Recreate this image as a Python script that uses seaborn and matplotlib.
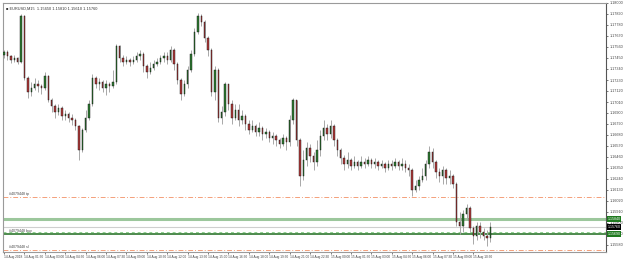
import matplotlib
matplotlib.use("Agg")
import matplotlib.pyplot as plt
import matplotlib.transforms as mtransforms
import seaborn as sns
import numpy as np

# %%
symbol_title = "\u25a0 EURUSD,M15  1.15650 1.15810 1.15610 1.15760"

bar_open = [
    1.1748, 1.1751, 1.1747, 1.1743, 1.1745, 1.1741, 1.1787, 1.1725, 1.1711, 1.1715,
    1.1719, 1.1717, 1.1715, 1.1727, 1.1703, 1.1697, 1.1691, 1.1695, 1.1687, 1.1689,
    1.1685, 1.1683, 1.1677, 1.1653, 1.1673, 1.1685, 1.1699, 1.1725, 1.1719, 1.1721,
    1.1715, 1.1719, 1.1717, 1.1721, 1.1757, 1.1745, 1.1741, 1.1743, 1.1741, 1.1743,
    1.1747, 1.1749, 1.1737, 1.1731, 1.1735, 1.1739, 1.1741, 1.1745, 1.1747, 1.1743,
    1.1753, 1.1739, 1.1723, 1.1709, 1.1719, 1.1733, 1.1749, 1.1771, 1.1787, 1.1781,
    1.1765, 1.1753, 1.1711, 1.1733, 1.1685, 1.1691, 1.1719, 1.1699, 1.1685, 1.1693,
    1.1683, 1.1687, 1.1679, 1.1673, 1.1677, 1.1671, 1.1675, 1.1669, 1.1671, 1.1665,
    1.1667, 1.1663, 1.1659, 1.1665, 1.1661, 1.1683, 1.1703, 1.1663, 1.1627, 1.1643,
    1.1655, 1.1647, 1.1641, 1.1653, 1.1667, 1.1675, 1.1669, 1.1677, 1.1663, 1.1653,
    1.1645, 1.1639, 1.1643, 1.1637, 1.1641, 1.1637, 1.1641, 1.1639, 1.1643, 1.1639,
    1.1641, 1.1637, 1.1639, 1.1635, 1.1639, 1.1637, 1.1641, 1.1637, 1.1639, 1.1635,
    1.1633, 1.1613, 1.1617, 1.1623, 1.1627, 1.1639, 1.1651, 1.1641, 1.1631, 1.1627,
    1.1633, 1.1625, 1.1627, 1.1619, 1.1581, 1.1577, 1.1589, 1.1595, 1.1575, 1.1567,
    1.1577, 1.1571, 1.1567, 1.1565,
]
bar_high = [
    1.1753, 1.1753, 1.1748, 1.1748, 1.1746, 1.1789, 1.1788, 1.1727, 1.1721, 1.1725,
    1.1723, 1.1719, 1.1731, 1.1728, 1.1705, 1.1699, 1.1699, 1.1697, 1.1693, 1.1691,
    1.1689, 1.1685, 1.1678, 1.1675, 1.1693, 1.1703, 1.1729, 1.1727, 1.1725, 1.1723,
    1.1723, 1.1721, 1.1733, 1.1759, 1.1758, 1.1748, 1.1747, 1.1745, 1.1747, 1.1751,
    1.1753, 1.1751, 1.1739, 1.1741, 1.1743, 1.1745, 1.1748, 1.1751, 1.1751, 1.1757,
    1.1755, 1.1741, 1.1725, 1.1723, 1.1737, 1.1753, 1.1775, 1.1790, 1.1789, 1.1783,
    1.1767, 1.1755, 1.1737, 1.1735, 1.1697, 1.1721, 1.1719, 1.1703, 1.1699, 1.1699,
    1.1693, 1.1689, 1.1683, 1.1683, 1.1679, 1.1681, 1.1677, 1.1675, 1.1673, 1.1671,
    1.1669, 1.1665, 1.1669, 1.1667, 1.1688, 1.1705, 1.1703, 1.1665, 1.1653, 1.1661,
    1.1659, 1.1651, 1.1663, 1.1673, 1.1683, 1.1679, 1.1683, 1.1679, 1.1665, 1.1655,
    1.1648, 1.1651, 1.1645, 1.1647, 1.1643, 1.1647, 1.1645, 1.1647, 1.1645, 1.1645,
    1.1643, 1.1643, 1.1641, 1.1643, 1.1643, 1.1645, 1.1643, 1.1645, 1.1643, 1.1639,
    1.1635, 1.1623, 1.1627, 1.1635, 1.1643, 1.1657, 1.1655, 1.1643, 1.1635, 1.1637,
    1.1635, 1.1633, 1.1629, 1.1621, 1.1591, 1.1593, 1.1599, 1.1597, 1.1577, 1.1581,
    1.1581, 1.1575, 1.1573, 1.1581,
]
bar_low = [
    1.1745, 1.1743, 1.1740, 1.1741, 1.1739, 1.1740, 1.1723, 1.1705, 1.1707, 1.1713,
    1.1711, 1.1709, 1.1713, 1.1701, 1.1691, 1.1685, 1.1688, 1.1683, 1.1683, 1.1681,
    1.1678, 1.1673, 1.1643, 1.1651, 1.1671, 1.1683, 1.1697, 1.1715, 1.1713, 1.1711,
    1.1708, 1.1711, 1.1715, 1.1719, 1.1741, 1.1737, 1.1739, 1.1737, 1.1739, 1.1741,
    1.1743, 1.1731, 1.1725, 1.1729, 1.1733, 1.1737, 1.1739, 1.1741, 1.1739, 1.1741,
    1.1733, 1.1719, 1.1703, 1.1707, 1.1715, 1.1731, 1.1747, 1.1769, 1.1777, 1.1761,
    1.1747, 1.1707, 1.1703, 1.1681, 1.1679, 1.1687, 1.1693, 1.1679, 1.1683, 1.1677,
    1.1679, 1.1673, 1.1669, 1.1671, 1.1667, 1.1667, 1.1663, 1.1665, 1.1661, 1.1659,
    1.1657, 1.1655, 1.1657, 1.1653, 1.1657, 1.1679, 1.1657, 1.1617, 1.1623, 1.1637,
    1.1641, 1.1633, 1.1637, 1.1647, 1.1663, 1.1663, 1.1665, 1.1657, 1.1647, 1.1639,
    1.1633, 1.1635, 1.1633, 1.1635, 1.1633, 1.1635, 1.1635, 1.1637, 1.1635, 1.1635,
    1.1633, 1.1635, 1.1631, 1.1633, 1.1633, 1.1635, 1.1633, 1.1633, 1.1631, 1.1627,
    1.1607, 1.1611, 1.1613, 1.1621, 1.1623, 1.1635, 1.1635, 1.1625, 1.1621, 1.1619,
    1.1619, 1.1619, 1.1615, 1.1577, 1.1569, 1.1571, 1.1583, 1.1571, 1.1559, 1.1563,
    1.1565, 1.1563, 1.1557, 1.1561,
]
bar_close = [
    1.1751, 1.1747, 1.1743, 1.1745, 1.1741, 1.1787, 1.1725, 1.1711, 1.1715, 1.1719,
    1.1717, 1.1715, 1.1727, 1.1703, 1.1697, 1.1691, 1.1695, 1.1687, 1.1689, 1.1685,
    1.1683, 1.1677, 1.1653, 1.1673, 1.1685, 1.1699, 1.1725, 1.1719, 1.1721, 1.1715,
    1.1719, 1.1717, 1.1721, 1.1757, 1.1745, 1.1741, 1.1743, 1.1741, 1.1743, 1.1747,
    1.1749, 1.1737, 1.1731, 1.1735, 1.1739, 1.1741, 1.1745, 1.1747, 1.1743, 1.1753,
    1.1739, 1.1723, 1.1709, 1.1719, 1.1733, 1.1749, 1.1771, 1.1787, 1.1781, 1.1765,
    1.1753, 1.1711, 1.1733, 1.1685, 1.1691, 1.1719, 1.1699, 1.1685, 1.1693, 1.1683,
    1.1687, 1.1679, 1.1673, 1.1677, 1.1671, 1.1675, 1.1669, 1.1671, 1.1665, 1.1667,
    1.1663, 1.1659, 1.1665, 1.1661, 1.1683, 1.1703, 1.1663, 1.1627, 1.1643, 1.1655,
    1.1647, 1.1641, 1.1653, 1.1667, 1.1675, 1.1669, 1.1677, 1.1663, 1.1653, 1.1645,
    1.1639, 1.1643, 1.1637, 1.1641, 1.1637, 1.1641, 1.1639, 1.1643, 1.1639, 1.1641,
    1.1637, 1.1639, 1.1635, 1.1639, 1.1637, 1.1641, 1.1637, 1.1639, 1.1635, 1.1633,
    1.1613, 1.1617, 1.1623, 1.1627, 1.1639, 1.1651, 1.1641, 1.1631, 1.1627, 1.1633,
    1.1625, 1.1627, 1.1619, 1.1581, 1.1577, 1.1589, 1.1595, 1.1575, 1.1567, 1.1577,
    1.1571, 1.1567, 1.1565, 1.1576,
]

time_labels = [
    "14 Aug 2018", "14 Aug 01:30", "14 Aug 03:00", "14 Aug 04:30", "14 Aug 06:00",
    "14 Aug 07:30", "14 Aug 09:00", "14 Aug 10:30", "14 Aug 12:00", "14 Aug 13:30",
    "14 Aug 15:00", "14 Aug 16:30", "14 Aug 18:00", "14 Aug 19:30", "14 Aug 21:00",
    "14 Aug 22:30", "15 Aug 00:00", "15 Aug 01:30", "15 Aug 03:00", "15 Aug 04:30",
    "15 Aug 06:00", "15 Aug 07:30", "15 Aug 09:00", "15 Aug 10:30",
]
label_every = 6

price_ticks = [
    1.1800, 1.1789, 1.1778, 1.1767, 1.1756, 1.1745, 1.1734, 1.1723, 1.1712, 1.1701,
    1.1690, 1.1679, 1.1668, 1.1657, 1.1646, 1.1635, 1.1624, 1.1613, 1.1602, 1.1591,
    1.1580, 1.1569, 1.1558,
]

order_ticket = "#4079448"
level_tp = 1.1606
level_alert = 1.1584
level_bid = 1.1576
level_entry = 1.1571
level_buy = 1.1569
level_sl = 1.1553

# %%
sns.set_theme(style="white")
plt.rcParams["font.family"] = ["Liberation Sans", "DejaVu Sans"]

fig = plt.figure(figsize=(6.25, 2.62), dpi=100)
ax = fig.add_axes([3 / 625, 10 / 262, 603 / 625, 249 / 262])
ax.set_facecolor("white")

o = np.array(bar_open)
h = np.array(bar_high)
l = np.array(bar_low)
c = np.array(bar_close)
idx = np.arange(len(c))
up = c >= o

ax.vlines(idx, l, h, color="#a8a8a8", linewidth=0.7, zorder=2)
body = np.where(np.abs(c - o) < 0.00002, 0.00002, c - o)
ax.bar(idx, body, bottom=o, width=0.42,
       color=np.where(up, "#2f7d32", "#b23a3a"),
       edgecolor="#111111", linewidth=0.3, zorder=3)

# order / price levels
ax.axhline(level_tp, color="#f4a07a", linewidth=0.7, dashes=(5, 2, 1, 2), zorder=1)
ax.axhline(level_sl, color="#f4a07a", linewidth=0.7, dashes=(5, 2, 1, 2), zorder=1)
ax.axhline(level_alert, color="#9cc79c", linewidth=2.2, zorder=1)
ax.axhline(level_bid, color="#cfcfcf", linewidth=0.8, zorder=1)
ax.axhline(level_entry, color="#8fd08f", linewidth=0.7, dashes=(3, 3), zorder=1)
ax.axhline(level_buy, color="#1d6b1d", linewidth=1.1, zorder=1)

lbl = dict(fontsize=2.6, color="#444444", ha="left", va="bottom")
ax.text(1.5, level_tp + 0.00006, order_ticket + " tp", **lbl)
ax.text(1.5, level_buy + 0.00006, order_ticket + " buy", **lbl)
ax.text(1.5, level_sl + 0.00006, order_ticket + " sl", **lbl)

ax.text(0.005, 0.985, symbol_title, transform=ax.transAxes, fontsize=2.8,
        color="#333333", ha="left", va="top")

ax.set_xlim(-0.3, 177)
ax.set_ylim(1.1551, 1.1800)

ax.yaxis.tick_right()
ax.set_yticks(price_ticks)
ax.set_yticklabels([f"{p:.5f}" for p in price_ticks])
ax.tick_params(axis="y", right=True, length=1.5, width=0.5, pad=1,
               labelsize=2.7, labelcolor="#444444", color="#444444")

ax.set_xticks(idx[::label_every][: len(time_labels)])
ax.set_xticklabels(time_labels, ha="left")
ax.tick_params(axis="x", bottom=True, length=1.5, width=0.5, pad=1,
               labelsize=2.3, labelcolor="#444444", color="#444444")

trans = mtransforms.blended_transform_factory(ax.transAxes, ax.transData)
for lev, bg in [(level_alert, "#1f7a1f"), (level_bid, "black"), (level_buy, "#1f7a1f")]:
    ax.text(1.003, lev, f"{lev:.5f}", transform=trans, fontsize=2.6, color="white",
            ha="left", va="center", clip_on=False, zorder=5,
            bbox=dict(boxstyle="square,pad=0.15", fc=bg, ec="none"))

for side in ["left", "top", "bottom"]:
    ax.spines[side].set_color("#9a9a9a")
    ax.spines[side].set_linewidth(0.8)
ax.spines["right"].set_color("#555555")
ax.spines["right"].set_linewidth(0.8)

plt.savefig("out.png", dpi=100)
